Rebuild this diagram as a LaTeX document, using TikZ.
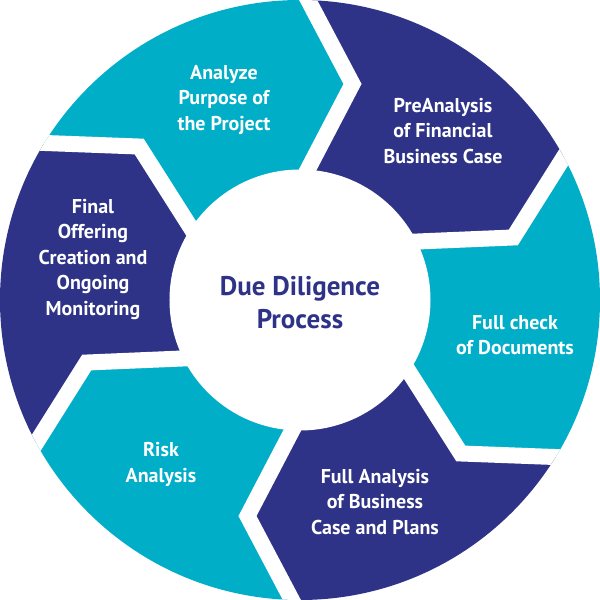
\documentclass[tikz,border=0pt]{standalone}
\usepackage{fontspec}
\setmainfont{PT Sans}
\definecolor{ddcyan}{RGB}{0,174,200}
\definecolor{dddark}{RGB}{46,51,136}
\begin{document}
\begin{tikzpicture}[x=1pt,y=1pt,
  seglabel/.style={text=white,font=\bfseries\fontsize{20}{25.5}\selectfont,align=center},
  gapline/.style={white,line width=16pt,line join=miter}]
\useasboundingbox (-300,-300) rectangle (300,300);
\fill[white] (-300,-300) rectangle (300,300);
% the six chevron boundaries
\foreach \k in {0,...,5} {
  \begin{scope}[rotate=-60*\k]
    \coordinate (E\k) at (-13,340);
    \coordinate (T\k) at (52.5,216);
    \coordinate (N\k) at (-29,60);
  \end{scope}
}
\coordinate (E6) at (E0);
\coordinate (T6) at (T0);
\coordinate (N6) at (N0);
\begin{scope}
\clip (0,0) circle (300);
\foreach \k/\col in {0/dddark,1/ddcyan,2/dddark,3/ddcyan,4/dddark,5/ddcyan} {
  \pgfmathtruncatemacro{\nxt}{\k+1}
  \fill[\col] (0,0) -- (N\k) -- (T\k) -- (E\k) -- (60-60*\k:450)
    -- (E\nxt) -- (T\nxt) -- (N\nxt) -- cycle;
}
\foreach \k in {0,...,5}
  \draw[gapline] (E\k) -- (T\k) -- (N\k);
\end{scope}
\fill[white] (0,0) circle (130.5);
\node[text=dddark,font=\bfseries\fontsize{27}{33}\selectfont,align=center] (hub) at (0,-3)
  {Due Diligence\\Process};
\node[seglabel] (analyze) at (-76,200) {Analyze\\Purpose of\\the Project};
\node[seglabel] (prean) at (143,169) {PreAnalysis\\of Financial\\Business Case};
\node[seglabel] (docs) at (215,-35) {Full check\\of Documents};
\node[seglabel] (plans) at (75,-202) {Full Analysis\\of Business\\Case and Plans};
\node[seglabel] (risk) at (-139,-164.5) {Risk\\Analysis};
\node[seglabel] (offer) at (-207,40.5) {Final\\Offering\\Creation and\\Ongoing\\Monitoring};
\end{tikzpicture}
\end{document}
